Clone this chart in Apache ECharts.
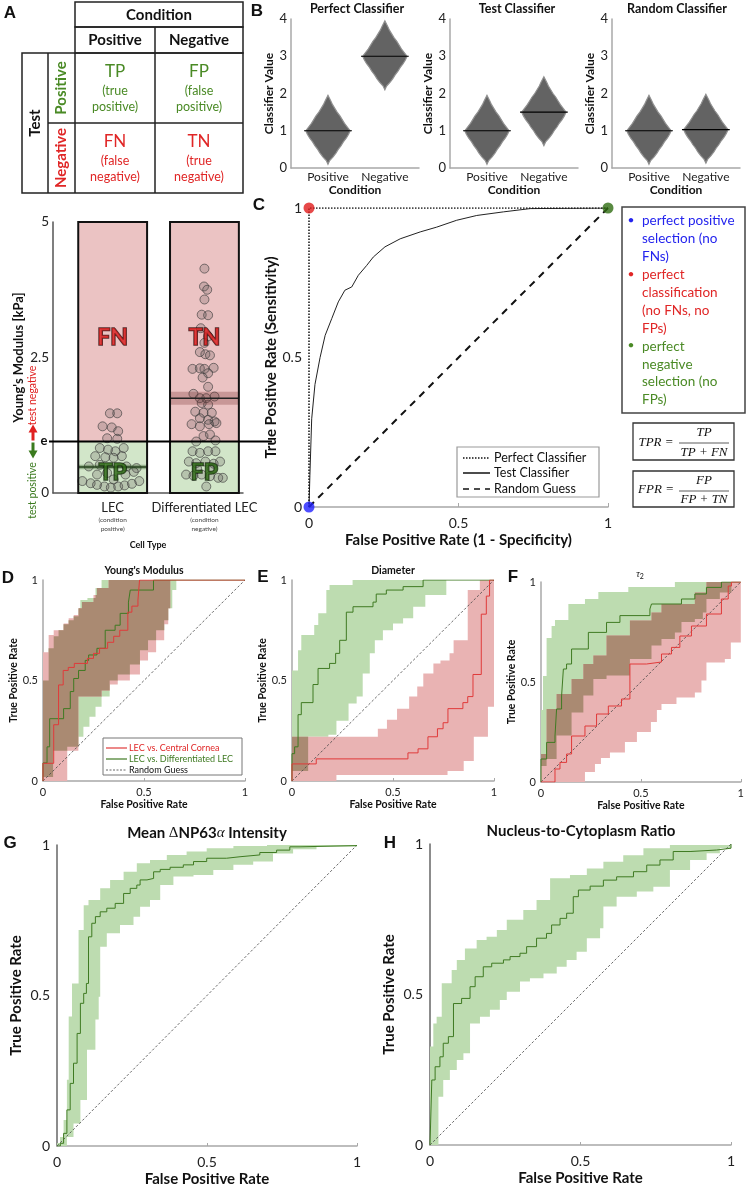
<!DOCTYPE html>
<html><head><meta charset="utf-8">
<script src="https://cdn.jsdelivr.net/npm/echarts@6.0.0/dist/echarts.min.js"></script>
<style>html,body{margin:0;padding:0;background:#fff;}#c{width:747px;height:1189px;}</style>
</head><body><div id="c"></div>
<script>
// ================= DATA =================
// Panel B (beeswarm silhouettes)
const swarmTitles = ['Perfect Classifier', 'Test Classifier', 'Random Classifier'];
const swarmCategories = ['Positive', 'Negative'];
const swarmMeans = [[1.0, 3.0], [1.0, 1.5], [1.0, 1.03]];
// [offset from group mean, half width (category units)]
const swarmProfile = [[-0.9,0],[-0.8,0.03],[-0.7,0.09],[-0.6,0.14],[-0.5,0.18],[-0.4,0.23],[-0.3,0.27],[-0.2,0.32],[-0.1,0.36],[0,0.39],[0.1,0.34],[0.2,0.29],[0.3,0.25],[0.4,0.21],[0.5,0.16],[0.6,0.12],[0.7,0.08],[0.8,0.05],[0.95,0]];

// Young's modulus panel
const ymCategories = ['LEC', 'Differentiated LEC'];
const ymSubLabels = ['positive)', 'negative)'];
const ymThreshold = 0.95;
const ymMax = 5;
const ymMeans = [0.48, 1.75];
const ymSE = [0.04, 0.12];
const ymRegionText = ['FN', 'TN', 'TP', 'FP'];
const ymRegionValue = [[1, 2.86], [2, 2.86], [1, 0.38], [2, 0.38]];
const lecPoints = [[-0.03,1.47],[0.05,1.47],[-0.11,1.23],[-0.01,1.21],[0.06,1.14],[-0.06,1.01],[0.05,1.0],[-0.14,0.83],[-0.05,0.8],[0.03,0.77],[0.12,0.83],[-0.19,0.68],[-0.08,0.66],[0.01,0.65],[0.1,0.68],[-0.26,0.49],[-0.14,0.52],[0.15,0.49],[0.26,0.46],[-0.17,0.34],[-0.06,0.37],[0.14,0.34],[0.23,0.39],[-0.33,0.22],[-0.24,0.18],[-0.17,0.15],[-0.09,0.12],[-0.02,0.1],[0.06,0.12],[0.13,0.14],[0.21,0.17],[0.29,0.22],[0.01,0.25]];
const diffPoints = [[0,4.14],[-0.005,3.81],[0.03,3.75],[0,3.57],[-0.03,3.29],[0.04,3.28],[-0.04,3.04],[0.04,2.89],[0.0,2.77],[-0.05,2.6],[0.01,2.56],[0.06,2.54],[-0.13,2.29],[-0.05,2.3],[0.0,2.29],[0.1,2.31],[0.04,2.21],[-0.02,2.13],[0.04,1.96],[-0.12,1.83],[-0.05,1.75],[0.02,1.75],[0.11,1.78],[-0.03,1.66],[0.04,1.63],[-0.1,1.5],[-0.01,1.48],[0.08,1.48],[-0.05,1.38],[0.04,1.35],[0.11,1.32],[-0.14,1.27],[-0.05,1.23],[0.05,1.27],[0.13,1.29],[-0.01,1.05],[0.06,1.08],[-0.09,0.95],[0.12,0.97],[-0.13,0.77],[-0.05,0.74],[0.04,0.77],[0.12,0.77],[-0.17,0.58],[-0.09,0.55],[0.01,0.58],[0.1,0.54],[0.17,0.58],[-0.2,0.34],[-0.12,0.32],[-0.03,0.34],[0.06,0.31],[0.15,0.28],[0.2,0.28],[0.02,0.12],[-0.08,0.45],[0.08,0.45]];

// Panel C
const cPerfect = [[0,0],[0,1],[1,1]];
const cRandom = [[0,0],[1,1]];
const cTest = [[0,0],[0.003,0.106],[0.009,0.295],[0.02,0.41],[0.037,0.50],[0.054,0.574],[0.076,0.63],[0.098,0.686],[0.12,0.725],[0.143,0.736],[0.165,0.775],[0.193,0.808],[0.215,0.836],[0.254,0.87],[0.305,0.897],[0.372,0.92],[0.427,0.936],[0.494,0.959],[0.561,0.975],[0.65,0.987],[0.74,0.998],[1,1]];
const cDots = [[0,1],[0,0],[1,1]];

// Panel D (Young's modulus ROC) – step corners
const dRedLine = [[0,0],[0,0.088],[0.053,0.28],[0.077,0.478],[0.10,0.55],[0.125,0.565],[0.155,0.585],[0.22,0.61],[0.25,0.635],[0.28,0.66],[0.32,0.69],[0.35,0.72],[0.38,0.75],[0.42,0.84],[0.44,0.87],[0.47,0.9],[0.478,1],[1,1]];
const dGreenLine = [[0,0],[0,0.09],[0.02,0.17],[0.033,0.31],[0.102,0.36],[0.135,0.445],[0.152,0.51],[0.176,0.55],[0.209,0.6],[0.226,0.627],[0.267,0.66],[0.308,0.75],[0.357,0.775],[0.382,0.834],[0.423,0.89],[0.432,0.95],[0.547,1],[1,1]];
const dRedUpper = [[0,0.64],[0.028,0.726],[0.053,0.75],[0.102,0.784],[0.127,0.81],[0.152,0.826],[0.176,0.86],[0.193,0.89],[0.25,0.925],[0.267,0.96],[0.325,1],[0.63,1]];
const dRedLower = [[0,0],[0.12,0.15],[0.175,0.42],[0.29,0.45],[0.33,0.48],[0.37,0.5],[0.43,0.53],[0.48,0.6],[0.52,0.64],[0.56,0.7],[0.6,0.78],[0.62,0.86],[0.63,1]];
const dGreenUpper = [[0,0.5],[0.028,0.66],[0.053,0.72],[0.077,0.75],[0.102,0.78],[0.127,0.8],[0.152,0.82],[0.176,0.86],[0.185,0.9],[0.22,0.91],[0.26,0.96],[0.29,1],[0.66,1]];
const dGreenLower = [[0,0.02],[0.05,0.15],[0.12,0.17],[0.175,0.22],[0.2,0.27],[0.23,0.32],[0.26,0.37],[0.29,0.42],[0.33,0.5],[0.37,0.53],[0.43,0.58],[0.48,0.65],[0.52,0.7],[0.56,0.75],[0.6,0.8],[0.62,0.86],[0.64,0.95],[0.66,1]];

// Panel E (Diameter)
const eRedLine = [[0,0],[0,0.085],[0.12,0.11],[0.574,0.14],[0.624,0.16],[0.673,0.22],[0.72,0.26],[0.748,0.29],[0.772,0.36],[0.846,0.39],[0.87,0.42],[0.896,0.53],[0.937,0.83],[0.962,0.92],[0.978,1],[1,1]];
const eGreenLine = [[0,0],[0,0.136],[0.013,0.17],[0.03,0.33],[0.046,0.39],[0.104,0.48],[0.129,0.56],[0.186,0.585],[0.216,0.635],[0.236,0.70],[0.269,0.84],[0.302,0.867],[0.401,0.89],[0.417,0.93],[0.467,0.95],[0.55,0.967],[0.649,1],[1,1]];
const eRedUpper = [[0,0.22],[0.425,0.26],[0.47,0.305],[0.52,0.36],[0.58,0.42],[0.62,0.47],[0.65,0.535],[0.70,0.585],[0.735,0.6],[0.78,0.635],[0.80,0.70],[0.87,0.95],[0.93,1],[1,1]];
const eRedLower = [[0,0],[0.22,0.03],[0.77,0.05],[0.85,0.1],[0.9,0.22],[0.97,0.37],[1,0.37]];
const eGreenUpper = [[0,0.55],[0.03,0.65],[0.046,0.726],[0.11,0.776],[0.13,0.834],[0.17,0.95],[0.186,0.975],[0.30,1],[0.764,1]];
const eGreenLower = [[0,0.05],[0.08,0.22],[0.18,0.23],[0.22,0.30],[0.28,0.385],[0.32,0.42],[0.35,0.535],[0.385,0.635],[0.41,0.70],[0.45,0.75],[0.5,0.784],[0.55,0.81],[0.6,0.867],[0.66,0.925],[0.764,1]];

// Panel F (tau2)
const fRedLine = [[0,0],[0.07,0],[0.07,0.065],[0.095,0.098],[0.128,0.14],[0.153,0.23],[0.22,0.28],[0.278,0.34],[0.337,0.38],[0.403,0.415],[0.445,0.59],[0.528,0.6],[0.603,0.64],[0.653,0.673],[0.695,0.73],[0.753,0.78],[0.828,0.84],[0.903,0.915],[0.937,0.98],[0.953,1],[1,1]];
const fGreenLine = [[0,0],[0,0.115],[0.028,0.198],[0.07,0.23],[0.078,0.365],[0.103,0.43],[0.112,0.565],[0.128,0.59],[0.153,0.665],[0.237,0.748],[0.328,0.798],[0.395,0.832],[0.545,0.865],[0.553,0.89],[0.703,0.915],[0.77,0.94],[0.828,0.973],[0.903,1],[1,1]];
const fRedUpper = [[0,0.14],[0.028,0.365],[0.078,0.44],[0.153,0.515],[0.212,0.59],[0.262,0.632],[0.328,0.732],[0.445,0.807],[0.553,0.848],[0.603,0.89],[0.77,0.948],[0.828,1],[1,1]];
const fRedLower = [[0,0],[0.22,0.05],[0.27,0.09],[0.3,0.12],[0.345,0.148],[0.42,0.2],[0.48,0.25],[0.55,0.3],[0.58,0.36],[0.603,0.39],[0.678,0.423],[0.77,0.448],[0.803,0.507],[0.828,0.598],[0.92,0.615],[0.95,0.698],[1,0.757]];
const fGreenUpper = [[0,0.36],[0.01,0.53],[0.028,0.72],[0.053,0.78],[0.07,0.81],[0.137,0.89],[0.22,0.915],[0.287,0.95],[0.437,0.975],[0.67,1],[0.953,1]];
const fGreenLower = [[0,0.08],[0.028,0.115],[0.078,0.232],[0.153,0.348],[0.212,0.432],[0.262,0.515],[0.328,0.532],[0.445,0.615],[0.553,0.682],[0.603,0.715],[0.67,0.748],[0.703,0.8],[0.77,0.815],[0.81,0.848],[0.828,0.915],[0.895,0.948],[0.953,1]];

// Panel G (Mean dNP63a intensity)
const gLine = [[0,0],[0.011,0.009],[0.022,0.042],[0.033,0.12],[0.044,0.208],[0.055,0.275],[0.067,0.374],[0.078,0.474],[0.089,0.507],[0.098,0.54],[0.105,0.695],[0.116,0.74],[0.128,0.762],[0.144,0.778],[0.166,0.79],[0.194,0.806],[0.222,0.839],[0.244,0.856],[0.266,0.867],[0.277,0.884],[0.3,0.889],[0.322,0.911],[0.344,0.919],[0.377,0.926],[0.421,0.934],[0.455,0.945],[0.499,0.956],[0.565,0.961],[0.61,0.967],[0.676,0.975],[0.732,0.983],[0.776,0.994],[0.81,0.998],[1,1]];
const gUpper = [[0,0.01],[0.01,0.03],[0.022,0.086],[0.033,0.22],[0.039,0.43],[0.05,0.54],[0.072,0.718],[0.089,0.8],[0.105,0.817],[0.144,0.856],[0.177,0.884],[0.222,0.911],[0.266,0.939],[0.31,0.95],[0.366,0.967],[0.432,0.978],[0.499,0.989],[0.588,0.997],[0.7,1],[1,1]];
const gLower = [[0,0],[0.022,0],[0.033,0.03],[0.055,0.075],[0.078,0.153],[0.1,0.32],[0.128,0.42],[0.139,0.496],[0.144,0.662],[0.166,0.707],[0.21,0.734],[0.255,0.762],[0.277,0.795],[0.31,0.817],[0.344,0.867],[0.388,0.895],[0.455,0.9],[0.521,0.917],[0.588,0.934],[0.654,0.945],[0.72,0.972],[0.787,0.986],[0.865,0.995],[1,1]];

// Panel H (Nucleus-to-cytoplasm ratio)
const hLine = [[0,0],[0.006,0.216],[0.017,0.26],[0.033,0.293],[0.044,0.338],[0.061,0.36],[0.078,0.47],[0.105,0.487],[0.133,0.526],[0.15,0.559],[0.177,0.592],[0.205,0.604],[0.244,0.615],[0.266,0.626],[0.299,0.637],[0.321,0.659],[0.354,0.687],[0.387,0.703],[0.404,0.731],[0.432,0.753],[0.454,0.77],[0.476,0.825],[0.493,0.847],[0.532,0.86],[0.576,0.88],[0.62,0.891],[0.676,0.908],[0.72,0.93],[0.764,0.947],[0.808,0.975],[0.864,0.98],[0.952,0.986],[1,1]];
const hUpper = [[0,0.327],[0.011,0.404],[0.022,0.426],[0.039,0.537],[0.072,0.581],[0.089,0.615],[0.116,0.653],[0.155,0.681],[0.188,0.692],[0.222,0.714],[0.255,0.748],[0.31,0.781],[0.354,0.814],[0.399,0.886],[0.465,0.897],[0.521,0.919],[0.576,0.941],[0.642,0.963],[0.709,0.986],[0.797,0.997],[1,1]];
const hLower = [[0,0],[0.028,0.16],[0.044,0.216],[0.066,0.249],[0.089,0.282],[0.111,0.305],[0.133,0.404],[0.166,0.426],[0.199,0.449],[0.232,0.482],[0.255,0.509],[0.299,0.543],[0.332,0.554],[0.377,0.57],[0.421,0.592],[0.454,0.615],[0.487,0.642],[0.521,0.687],[0.565,0.72],[0.576,0.792],[0.62,0.825],[0.687,0.842],[0.742,0.858],[0.797,0.914],[0.864,0.947],[0.919,0.969],[0.963,0.986],[1,1]];
const diagonal = [[0,0],[1,1]];

// ================= STYLE =================
const F = 'Lato, "Open Sans", "Noto Sans", sans-serif';
const SERIF = '"Liberation Serif", "DejaVu Serif", serif';
const RED = '#e02626', GREEN = '#4a8a25', BLUE = '#2424ee';
const LINE_RED = '#e03a3a', LINE_GREEN = '#3f7a22';
const BAND_RED = '#e9b3b3', BAND_GREEN = '#bddcb0', BAND_BOTH = '#aa8a72';
const AX = '#a8a8a8';

const chart = echarts.init(document.getElementById('c'), null, {renderer: 'canvas'});

const grids = [
  {left: 291, top: 19, width: 128, height: 149},
  {left: 450, top: 19, width: 128, height: 149},
  {left: 612, top: 19, width: 128, height: 149},
  {left: 53, top: 222, width: 190, height: 271},
  {left: 309, top: 208, width: 299, height: 299},
  {left: 43, top: 580, width: 202, height: 201},
  {left: 292, top: 580, width: 202, height: 201},
  {left: 541, top: 582, width: 200, height: 200},
  {left: 57, top: 845, width: 300, height: 301},
  {left: 430, top: 844, width: 301, height: 301}
];

function nameStyle(size) { return {fontFamily: F, fontWeight: 'bold', fontSize: size, color: '#111'}; }
const xAxes = [], yAxes = [];
for (let i = 0; i < 3; i++) {
  xAxes.push({gridIndex: i, type: 'value', min: 0.35, max: 2.6, name: 'Condition', nameLocation: 'middle', nameGap: 14,
    nameTextStyle: nameStyle(12), axisLine: {lineStyle: {color: AX, width: 1.5}}, axisTick: {show: false}, splitLine: {show: false},
    axisLabel: {customValues: [1, 2], formatter: v => swarmCategories[Math.round(v) - 1] || '', fontFamily: F, fontSize: 12, color: '#222', margin: 3}});
  yAxes.push({gridIndex: i, type: 'value', min: 0, max: 4, interval: 1, name: 'Classifier Value', nameLocation: 'middle', nameGap: 13,
    nameTextStyle: nameStyle(12), axisLine: {show: true, lineStyle: {color: AX, width: 1.5}}, axisTick: {show: false}, splitLine: {show: false},
    axisLabel: {fontFamily: F, fontSize: 13, color: '#222', margin: 4}});
}
// Young's modulus
xAxes.push({gridIndex: 3, type: 'value', min: 0.35, max: 2.42, name: 'Cell Type', nameLocation: 'middle', nameGap: 48,
  nameTextStyle: nameStyle(9), axisLine: {lineStyle: {color: '#555', width: 1.5}}, axisTick: {show: false}, splitLine: {show: false},
  axisLabel: {customValues: [1, 2], margin: 7, formatter: v => { const k = Math.round(v) - 1; return k < 0 || k > 1 ? '' : '{a|' + ymCategories[k] + '}\n{b|(condition}\n{b|' + ymSubLabels[k] + '}'; },
    rich: {a: {fontFamily: F, fontSize: 13, color: '#222', lineHeight: 15}, b: {fontFamily: F, fontSize: 6.5, color: '#444', lineHeight: 9}}}});
yAxes.push({gridIndex: 3, type: 'value', min: 0, max: ymMax, interval: 2.5, name: "Young's Modulus [kPa]", nameLocation: 'middle', nameGap: 28,
  nameTextStyle: nameStyle(13), axisLine: {show: true, lineStyle: {color: '#555', width: 1.5}}, axisTick: {show: false}, splitLine: {show: false},
  axisLabel: {fontFamily: F, fontSize: 13.5, color: '#222', margin: 4}});
// C
xAxes.push({gridIndex: 4, type: 'value', min: 0, max: 1, interval: 0.5, name: 'False Positive Rate (1 - Specificity)', nameLocation: 'middle', nameGap: 26,
  nameTextStyle: nameStyle(15), axisLine: {lineStyle: {color: AX, width: 1.5}}, axisTick: {show: true, inside: true, length: 4, lineStyle: {color: AX}}, splitLine: {show: false},
  axisLabel: {fontFamily: F, fontSize: 14, color: '#222', margin: 9}});
yAxes.push({gridIndex: 4, type: 'value', min: 0, max: 1, interval: 0.5, name: 'True Positive Rate (Sensitivity)', nameLocation: 'middle', nameGap: 30,
  nameTextStyle: nameStyle(15), axisLine: {show: false}, axisTick: {show: false}, splitLine: {show: false},
  axisLabel: {fontFamily: F, fontSize: 14, color: '#222', margin: 7}});
function rocAxes(g, lab, nm, xgap, ygap, xm, ym, yAxisColor) {
  xAxes.push({gridIndex: g, type: 'value', min: 0, max: 1, interval: 0.5, name: 'False Positive Rate', nameLocation: 'middle', nameGap: xgap,
    nameTextStyle: nameStyle(nm), axisLine: {lineStyle: {color: AX, width: 1.5}}, axisTick: {show: true, inside: true, length: 3, lineStyle: {color: AX}}, splitLine: {show: false},
    axisLabel: {fontFamily: F, fontSize: lab, color: '#222', margin: xm}});
  yAxes.push({gridIndex: g, type: 'value', min: 0, max: 1, interval: 0.5, name: 'True Positive Rate', nameLocation: 'middle', nameGap: ygap,
    nameTextStyle: nameStyle(nm), axisLine: {show: true, lineStyle: {color: yAxisColor, width: 1.5}}, axisTick: {show: false}, splitLine: {show: false},
    axisLabel: {fontFamily: F, fontSize: lab, color: '#222', margin: ym}});
}
rocAxes(5, 11, 10.5, 18, 21, 6, 5, AX);
rocAxes(6, 11, 10.5, 18, 21, 6, 5, AX);
rocAxes(7, 11, 10.5, 18, 21, 6, 5, AX);
rocAxes(8, 14, 15, 26, 33, 9, 7, '#666');
rocAxes(9, 14, 15, 26, 33, 9, 7, '#666');

// ================= SERIES =================
const series = [];
function stepPath(pts) { const o = [pts[0]]; for (let i = 1; i < pts.length; i++) { o.push([pts[i][0], pts[i - 1][1]]); o.push(pts[i]); } return o; }
function stepAt(pts, x) {
  if (x < pts[0][0] || x > pts[pts.length - 1][0]) return null;
  let y = null; for (const p of pts) { if (p[0] <= x) y = p[1]; else break; } return y;
}
function bandSeries(g, upper, lower, color) {
  series.push({type: 'custom', xAxisIndex: g, yAxisIndex: g, silent: true, z: 1, data: [[0, 0]],
    renderItem: (p, api) => {
      const u = stepPath(upper).map(q => api.coord(q));
      const l = stepPath(lower).map(q => api.coord(q)).reverse();
      return {type: 'polygon', shape: {points: u.concat(l)}, style: {fill: color}};
    }});
}
// overlap of two step bands (region covered by both confidence bands)
function overlapSeries(g, u1, l1, u2, l2, color) {
  series.push({type: 'custom', xAxisIndex: g, yAxisIndex: g, silent: true, z: 2, data: [[0, 0]],
    renderItem: (p, api) => {
      const xs = Array.from(new Set([].concat(u1, l1, u2, l2).map(q => q[0]))).sort((a, b) => a - b);
      const kids = [];
      let top = [], bot = [];
      const flush = () => {
        if (top.length) kids.push({type: 'polygon', shape: {points: top.concat(bot.reverse()).map(q => api.coord(q))}, style: {fill: color}});
        top = []; bot = [];
      };
      for (let k = 0; k < xs.length - 1; k++) {
        const xm = (xs[k] + xs[k + 1]) / 2;
        const a = stepAt(u1, xm), b = stepAt(l1, xm), c = stepAt(u2, xm), d = stepAt(l2, xm);
        if (a === null || b === null || c === null || d === null) { flush(); continue; }
        const hi = Math.min(a, c), lo = Math.max(b, d);
        if (hi <= lo) { flush(); continue; }
        top.push([xs[k], hi], [xs[k + 1], hi]);
        bot.push([xs[k], lo], [xs[k + 1], lo]);
      }
      flush();
      return {type: 'group', children: kids};
    }});
}
function lineSeries(g, data, color, width, type, step) {
  series.push({type: 'line', xAxisIndex: g, yAxisIndex: g, data: data, step: step ? 'end' : false, symbol: 'none', silent: true, z: 3,
    lineStyle: {color: color, width: width, type: type || 'solid'}, animation: false});
}
// B swarms
for (let i = 0; i < 3; i++) {
  series.push({type: 'custom', xAxisIndex: i, yAxisIndex: i, silent: true, data: swarmMeans[i].map((m, k) => [k + 1, m]),
    renderItem: (p, api) => {
      const cx = api.value(0), m = api.value(1), pts = [];
      swarmProfile.forEach(q => pts.push(api.coord([cx + q[1], m + q[0]])));
      for (let k = swarmProfile.length - 1; k >= 0; k--) { const q = swarmProfile[k]; pts.push(api.coord([cx - q[1], m + q[0]])); }
      const a = api.coord([cx - 0.42, m]), b = api.coord([cx + 0.42, m]);
      return {type: 'group', children: [
        {type: 'polygon', shape: {points: pts}, style: {fill: '#636363', stroke: '#909090', lineWidth: 1.2}},
        {type: 'line', shape: {x1: a[0], y1: a[1], x2: b[0], y2: b[1]}, style: {stroke: '#000', lineWidth: 1.2}}]};
    }});
}
// Young's modulus: region fills
series.push({type: 'custom', xAxisIndex: 3, yAxisIndex: 3, silent: true, z: 1,
  data: [[1, 0, ymThreshold, 0], [1, ymThreshold, ymMax, 1], [2, 0, ymThreshold, 0], [2, ymThreshold, ymMax, 1]],
  renderItem: (p, api) => {
    const x = api.value(0), a = api.coord([x - 0.375, api.value(2)]), b = api.coord([x + 0.375, api.value(1)]);
    return {type: 'rect', shape: {x: a[0], y: a[1], width: b[0] - a[0], height: b[1] - a[1]}, style: {fill: api.value(3) ? '#ebc3c3' : '#d2e6c9'}};
  }});
// points
series.push({type: 'scatter', xAxisIndex: 3, yAxisIndex: 3, silent: true, z: 3, symbolSize: 9,
  data: lecPoints.map(p => [1 + p[0], p[1]]).concat(diffPoints.map(p => [2 + p[0], p[1]])),
  itemStyle: {color: 'rgba(95,85,85,0.3)', borderColor: '#3a3a3a', borderWidth: 0.8}});
// mean +- SE
series.push({type: 'custom', xAxisIndex: 3, yAxisIndex: 3, silent: true, z: 4,
  data: ymMeans.map((m, k) => [k + 1, m, ymSE[k], k]),
  renderItem: (p, api) => {
    const x = api.value(0), m = api.value(1), s = api.value(2), k = api.value(3);
    const a = api.coord([x - 0.375, m + s]), b = api.coord([x + 0.375, m - s]), c = api.coord([x - 0.375, m]), d = api.coord([x + 0.375, m]);
    return {type: 'group', children: [
      {type: 'rect', shape: {x: a[0], y: a[1], width: b[0] - a[0], height: b[1] - a[1]}, style: {fill: k ? 'rgba(110,40,40,0.28)' : 'rgba(40,80,30,0.35)'}},
      {type: 'line', shape: {x1: c[0], y1: c[1], x2: d[0], y2: d[1]}, style: {stroke: k ? '#222' : '#25421c', lineWidth: 1.5}}]};
  }});
// frames
series.push({type: 'custom', xAxisIndex: 3, yAxisIndex: 3, silent: true, z: 5, data: [[1, 0, ymMax], [2, 0, ymMax]],
  renderItem: (p, api) => {
    const x = api.value(0), a = api.coord([x - 0.375, api.value(2)]), b = api.coord([x + 0.375, api.value(1)]);
    return {type: 'rect', shape: {x: a[0], y: a[1], width: b[0] - a[0], height: b[1] - a[1]}, style: {fill: 'none', stroke: '#111', lineWidth: 2}};
  }});
// FN/TN/TP/FP
series.push({type: 'scatter', xAxisIndex: 3, yAxisIndex: 3, silent: true, z: 6, symbolSize: 0, itemStyle: {color: 'rgba(0,0,0,0)'},
  data: ymRegionValue.map((v, k) => ({value: [v[0], v[1], ymRegionText[k]],
    label: k < 2 ? {color: '#d81c1c', textBorderColor: '#2a0505'} : {color: '#2f6b17', textBorderColor: '#0c1d06'}})),
  label: {show: true, position: 'inside', formatter: p => p.value[2], fontFamily: F, fontWeight: 'bold', fontSize: 23, textBorderWidth: 1.6}});
// C
lineSeries(4, cRandom, '#111', 2, [7, 6], false);
lineSeries(4, cTest, '#222', 1, 'solid', false);
lineSeries(4, cPerfect, '#111', 1.5, [1.5, 1.5], false);
series.push({type: 'scatter', xAxisIndex: 4, yAxisIndex: 4, silent: true, z: 6, symbolSize: 11,
  data: cDots.map((d, k) => ({value: d, itemStyle: {color: ['#e01c1c', '#2020ff', '#2f6d12'][k]}}))});
// D, E, F
[[5, dRedUpper, dRedLower, dGreenUpper, dGreenLower, dRedLine, dGreenLine],
 [6, eRedUpper, eRedLower, eGreenUpper, eGreenLower, eRedLine, eGreenLine],
 [7, fRedUpper, fRedLower, fGreenUpper, fGreenLower, fRedLine, fGreenLine]].forEach(s => {
  bandSeries(s[0], s[3], s[4], BAND_GREEN);
  bandSeries(s[0], s[1], s[2], BAND_RED);
  overlapSeries(s[0], s[1], s[2], s[3], s[4], BAND_BOTH);
  lineSeries(s[0], diagonal, '#444', 0.8, [2.5, 2], false);
  lineSeries(s[0], s[6], LINE_GREEN, 1, 'solid', true);
  lineSeries(s[0], s[5], LINE_RED, 1, 'solid', true);
});
// G, H
bandSeries(8, gUpper, gLower, BAND_GREEN);
lineSeries(8, diagonal, '#444', 0.8, [2.5, 2], false);
lineSeries(8, gLine, LINE_GREEN, 1, 'solid', true);
bandSeries(9, hUpper, hLower, BAND_GREEN);
lineSeries(9, diagonal, '#444', 0.8, [2.5, 2], false);
lineSeries(9, hLine, LINE_GREEN, 1, 'solid', true);

chart.setOption({animation: false, grid: grids, xAxis: xAxes, yAxis: yAxes, series: series});

// ================= GRAPHIC (annotations) =================
const G = [];
function T(x, y, text, o) {
  o = o || {};
  const st = {text: text, fontFamily: o.family || F, fontSize: o.size || 12, fontWeight: o.weight || 'normal', fontStyle: o.style || 'normal',
    fill: o.color || '#111', align: o.align || 'center', verticalAlign: o.va || 'middle', textAlign: o.align || 'center', textVerticalAlign: o.va || 'middle'};
  if (o.rich) st.rich = o.rich;
  G.push({type: 'text', x: x, y: y, rotation: o.rot || 0, z: 100, style: st});
}
function L(x1, y1, x2, y2, color, w, dash) { G.push({type: 'line', z: 100, shape: {x1, y1, x2, y2}, style: {stroke: color || '#222', lineWidth: w || 1.5, lineDash: dash || null}}); }
function R(x, y, w, h, stroke, lw, fill) { G.push({type: 'rect', z: 99, shape: {x, y, width: w, height: h}, style: {fill: fill || 'none', stroke: stroke || '#222', lineWidth: lw || 1.5}}); }

// panel letters
const LF = {family: '"Liberation Sans", Arial, sans-serif', weight: 'bold', size: 17};
T(10, 13, 'A', LF); T(257, 11, 'B', LF); T(259, 205, 'C', LF); T(8, 578, 'D', LF); T(263, 577, 'E', LF);
T(513, 577, 'F', LF); T(10, 843, 'G', LF); T(390, 843, 'H', LF);

// Table A
R(75, 2, 168, 25); R(75, 27, 168, 26); L(155, 27, 155, 53);
R(22, 53, 221, 140); L(48, 53, 48, 193); L(75, 53, 75, 193); L(155, 53, 155, 193); L(48, 123, 243, 123);
T(159, 15, 'Condition', {weight: 'bold', size: 15});
T(115, 40, 'Positive', {weight: 'bold', size: 15}); T(199, 40, 'Negative', {weight: 'bold', size: 15});
T(35, 123, 'Test', {weight: 'bold', size: 15, rot: Math.PI / 2});
T(61, 88, 'Positive', {weight: 'bold', size: 15, rot: Math.PI / 2, color: GREEN});
T(61, 158, 'Negative', {weight: 'bold', size: 15, rot: Math.PI / 2, color: RED});
[[115, 'TP', '(true', 'positive)', GREEN, 72], [199, 'FP', '(false', 'positive)', GREEN, 72],
 [115, 'FN', '(false', 'negative)', RED, 142], [199, 'TN', '(true', 'negative)', RED, 142]].forEach(c => {
  T(c[0], c[5], c[1], {size: 17, color: c[4]});
  T(c[0], c[5] + 19, c[2], {size: 12.5, color: c[4]});
  T(c[0], c[5] + 35, c[3], {size: 12.5, color: c[4]});
});

// B titles
[357, 517, 677].forEach((x, k) => T(x, 9, swarmTitles[k], {weight: 'bold', size: 12.5}));

// Young's modulus annotations
const ey = chart.convertToPixel({xAxisIndex: 3, yAxisIndex: 3}, [1, ymThreshold])[1];
L(49, ey, 272, ey, '#000', 2.2);
T(44, ey - 1, 'e', {weight: 'bold', size: 13});
G.push({type: 'polygon', z: 100, shape: {points: [[33, ey - 17], [28.5, ey - 9], [37.5, ey - 9]]}, style: {fill: '#e02020'}});
G.push({type: 'rect', z: 100, shape: {x: 31.5, y: ey - 10, width: 3, height: 9}, style: {fill: '#e02020'}});
G.push({type: 'polygon', z: 100, shape: {points: [[33, ey + 17], [28.5, ey + 9], [37.5, ey + 9]]}, style: {fill: '#3a7a1e'}});
G.push({type: 'rect', z: 100, shape: {x: 31.5, y: ey + 1, width: 3, height: 9}, style: {fill: '#3a7a1e'}});
T(33, ey - 46, 'test negative', {size: 10.5, color: '#e02020', rot: Math.PI / 2});
T(33, ey + 49, 'test positive', {size: 10.5, color: '#3a7a1e', rot: Math.PI / 2});

// C right box
R(622, 207, 123, 206, '#444', 1.5);
const boxLines = [['perfect positive', BLUE, true], ['selection (no', BLUE], ['FNs)', BLUE],
  ['perfect', RED, true], ['classification', RED], ['(no FNs, no', RED], ['FPs)', RED],
  ['perfect', GREEN, true], ['negative', GREEN], ['selection (no', GREEN], ['FPs)', GREEN]];
boxLines.forEach((b, k) => {
  const y = 221 + k * 17.9;
  if (b[2]) T(631, y - 1, '•', {size: 12, color: b[1]});
  T(642, y, b[0], {size: 13.5, color: b[1], align: 'left'});
});
// formula boxes
const MF = {family: SERIF, style: 'italic', size: 13};
R(633, 423, 101, 37, '#333', 1.3);
T(656, 443, 'TPR =', MF); T(704, 433, 'TP', MF); L(679, 443, 729, 443, '#333', 0.8); T(704, 453, 'TP + FN', MF);
R(633, 471, 101, 36, '#333', 1.3);
T(656, 490, 'FPR =', MF); T(704, 481, 'FP', MF); L(679, 491, 729, 491, '#333', 0.8); T(704, 500, 'FP + TN', MF);
// C legend
R(457, 447, 142, 50, '#9a9a9a', 1.2, '#fff');
L(463, 458, 490, 458, '#111', 1.5, [1.5, 1.5]); T(494, 458, 'Perfect Classifier', {size: 12.5, align: 'left'});
L(463, 473, 490, 473, '#111', 1.5); T(494, 473, 'Test Classifier', {size: 12.5, align: 'left'});
L(463, 489, 490, 489, '#111', 1.5, [6, 5]); T(494, 489, 'Random Guess', {size: 12.5, align: 'left'});

// D-H titles
T(144, 571, "Young's Modulus", {weight: 'bold', size: 10.5});
T(393, 571, 'Diameter', {weight: 'bold', size: 10.5});
T(640, 574, '{t|τ}{s|2}', {rich: {t: {fontFamily: SERIF, fontStyle: 'italic', fontSize: 10, fill: '#111'}, s: {fontFamily: F, fontSize: 7, fill: '#111', padding: [6, 0, 0, 0]}}});
T(207, 833, '{b|Mean }{m|Δ}{b|NP63}{i|α}{b| Intensity}', {rich: {
  b: {fontFamily: F, fontWeight: 'bold', fontSize: 15, fill: '#111'},
  m: {fontFamily: SERIF, fontSize: 15, fill: '#111'},
  i: {fontFamily: SERIF, fontStyle: 'italic', fontSize: 15, fill: '#111'}}});
T(581, 831, 'Nucleus-to-Cytoplasm Ratio', {weight: 'bold', size: 15});
// D legend
R(103, 738, 139, 37, '#777', 1, '#fff');
L(106, 748, 127, 748, LINE_RED, 1.2); T(129, 748, 'LEC vs. Central Cornea', {size: 9, color: '#e02626', align: 'left'});
L(106, 759, 127, 759, LINE_GREEN, 1.2); T(129, 759, 'LEC vs. Differentiated LEC', {size: 9, color: '#3f7a22', align: 'left'});
L(106, 770, 127, 770, '#555', 0.9, [2, 1.5]); T(129, 770, 'Random Guess', {size: 9, color: '#111', align: 'left'});

chart.setOption({graphic: {elements: G}});
</script></body></html>
